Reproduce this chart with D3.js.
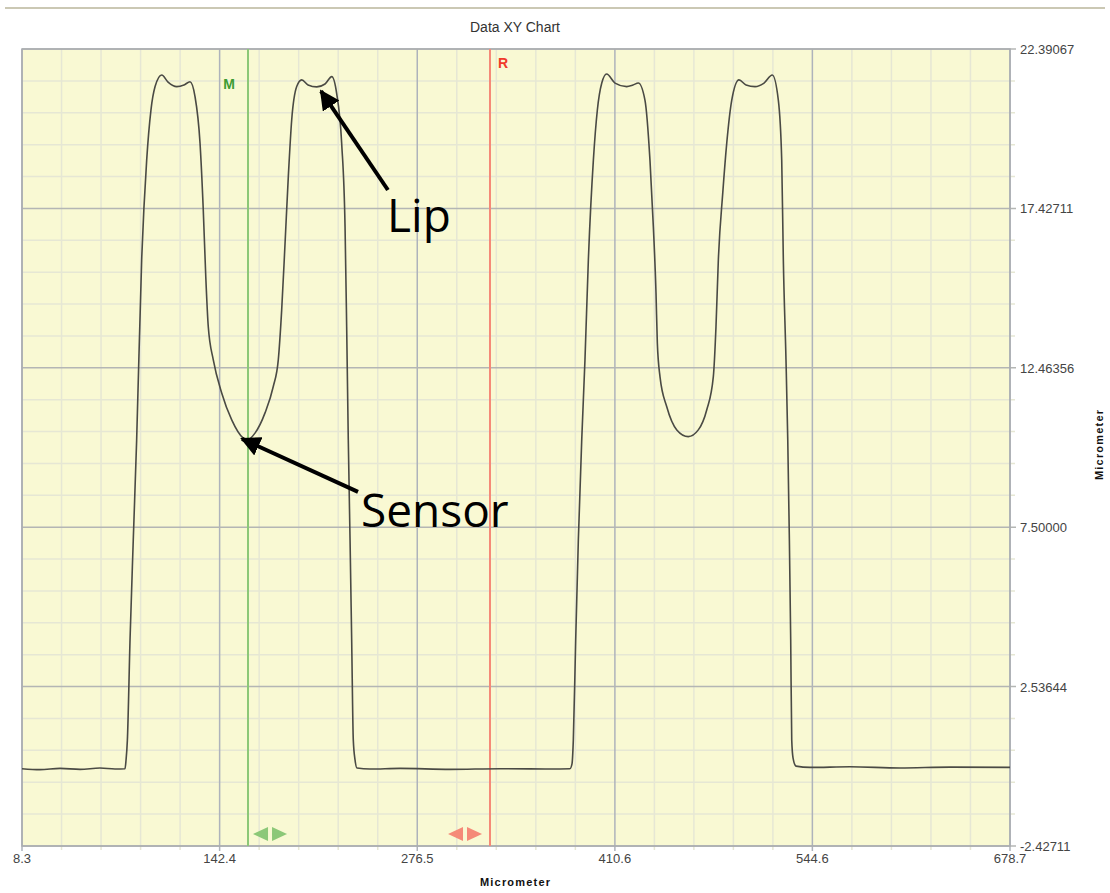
<!DOCTYPE html>
<html>
<head>
<meta charset="utf-8">
<script src="https://d3js.org/d3.v7.min.js"></script>
<style>
  body { margin: 0; background: #fff; }
  svg { display: block; font-family: "Liberation Sans", Arial, sans-serif; }
</style>
</head>
<body>
<svg></svg>
<script>
var width = 1110;
var height = 893;

// profile (micrometer vs micrometer)
var profileX = [8.3, 20.5, 34.1, 47.7, 61.2, 71.4, 78.2, 78.9, 79.8, 81.6, 83.8, 86.1, 89.5, 92.9, 95.8, 98.6,
  103.1, 107.4, 113.3, 118.2, 122.3, 125.7, 129.1, 131.3, 133.0, 134.7, 138.1, 143.8, 150.6, 158.5, 161.0,
  166.4, 173.2, 178.8, 182.2, 184.5, 186.8, 189.0, 191.3, 194.7, 198.1, 202.4, 208.3, 213.9, 218.5, 221.8,
  225.2, 227.5, 228.6, 229.7, 230.9, 232.0, 233.1, 234.3, 235.6, 244.4, 264.8, 298.7, 332.7, 366.6, 380.1,
  381.5, 382.4, 384.0, 385.8, 388.1, 390.3, 392.6, 396.0, 398.7, 401.7, 405.0, 410.7, 418.6, 422.9, 426.5,
  431.0, 434.4, 436.7, 438.5, 439.4, 441.2, 445.8, 452.6, 460.4, 467.2, 472.9, 477.4, 479.2, 480.8, 483.8,
  486.5, 489.9, 494.8, 499.6, 505.7, 511.8, 517.4, 521.5, 523.8, 524.9, 526.7, 527.9, 529.0, 529.9, 530.6,
  531.5, 533.5, 543.0, 570.1, 604.1, 638.0, 678.7];
var profileY = [-0.02, -0.05, -0.01, -0.04, 0.0, -0.03, -0.02, 0.25, 0.87, 3.99, 7.10, 10.22, 15.82, 18.93, 20.49, 21.22,
  21.58, 21.36, 21.22, 21.27, 21.37, 20.91, 19.46, 17.38, 15.30, 13.74, 12.71, 11.68, 10.84, 10.27, 10.22,
  10.43, 11.06, 11.88, 12.71, 14.26, 16.35, 18.41, 20.18, 21.22, 21.43, 21.27, 21.21, 21.30, 21.53, 21.01,
  19.46, 16.86, 13.74, 10.22, 7.10, 3.99, 0.87, 0.25, 0.0, -0.03, -0.01, -0.04, -0.02, -0.03, -0.02,
  0.13, 0.87, 3.99, 7.10, 10.22, 12.71, 15.82, 18.93, 20.49, 21.33, 21.61, 21.33, 21.22, 21.27, 21.33,
  20.80, 18.93, 16.86, 14.79, 13.24, 12.19, 11.25, 10.53, 10.32, 10.53, 11.15, 12.19, 13.74, 15.82, 17.91,
  19.46, 20.80, 21.43, 21.27, 21.22, 21.33, 21.58, 20.80, 18.93, 15.82, 12.71, 10.22, 7.10, 3.99, 0.87,
  0.31, 0.06, 0.02, 0.04, 0.0, 0.03, 0.02];

var xTicks = [8.3, 142.4, 276.5, 410.6, 544.6, 678.7];
var xTickLabels = ["8.3", "142.4", "276.5", "410.6", "544.6", "678.7"];
var yTicks = [22.39067, 17.42711, 12.46356, 7.50000, 2.53644, -2.42711];
var yTickLabels = ["22.39067", "17.42711", "12.46356", "7.50000", "2.53644", "-2.42711"];

var markerNames = ["M", "R"];
var markerValues = [161.65, 325.86];
var markerHandles = [176.6, 308.9];
var markerColors = ["#8cc878", "#f58a78"];
var markerLabelColors = ["#3c9c34", "#f03a2a"];

var noteTexts = ["Lip", "Sensor"];
var noteTip = [[211.2, 21.08], [157.6, 10.25]];
var noteTail = [[256.6, 18.0], [236.3, 8.6]];
var noteAt = [[256.0, 16.69], [238.3, 7.51]];

var margin = { left: 22, right: 100, top: 49, bottom: 47 };

var x = d3.scaleLinear().domain([8.3, 678.7]).range([margin.left, width - margin.right]);
var y = d3.scaleLinear().domain([-2.42711, 22.39067]).range([height - margin.bottom, margin.top]);

var svg = d3.select("svg").attr("width", width).attr("height", height);

// top rule and title
svg.append("line").attr("x1", 5).attr("x2", width - 5).attr("y1", 8).attr("y2", 8)
  .attr("stroke", "#cbc8b4").attr("stroke-width", 2);
svg.append("text").attr("x", 515).attr("y", 32).attr("text-anchor", "middle")
  .attr("font-size", 14).attr("fill", "#333").text("Data XY Chart");

// plot background
svg.append("rect").attr("x", x.range()[0]).attr("y", y.range()[1])
  .attr("width", x.range()[1] - x.range()[0]).attr("height", y.range()[0] - y.range()[1])
  .attr("fill", "#f9f9d3");

// minor ticks: five steps between majors
function minors(ticks) {
  var out = [];
  for (var i = 0; i < ticks.length - 1; i++) {
    for (var k = 1; k < 5; k++) out.push(ticks[i] + (ticks[i + 1] - ticks[i]) * k / 5);
  }
  return out;
}
var xMinor = minors(xTicks);
var yMinor = minors(yTicks);

var grid = svg.append("g");
grid.selectAll(".vx").data(xMinor).enter().append("line")
  .attr("x1", d => x(d)).attr("x2", d => x(d)).attr("y1", y.range()[1]).attr("y2", y.range()[0] + 4)
  .attr("stroke", "#e6e7d4").attr("stroke-width", 1.5);
grid.selectAll(".hy").data(yMinor).enter().append("line")
  .attr("x1", x.range()[0]).attr("x2", x.range()[1] + 5).attr("y1", d => y(d)).attr("y2", d => y(d))
  .attr("stroke", "#e6e7d4").attr("stroke-width", 1.5);
grid.selectAll(".vX").data(xTicks).enter().append("line")
  .attr("x1", d => x(d)).attr("x2", d => x(d)).attr("y1", y.range()[1]).attr("y2", y.range()[0] + 5)
  .attr("stroke", "#aeb3bb").attr("stroke-width", 1.5);
grid.selectAll(".hY").data(yTicks).enter().append("line")
  .attr("x1", x.range()[0]).attr("x2", x.range()[1] + 6).attr("y1", d => y(d)).attr("y2", d => y(d))
  .attr("stroke", "#b4b6b4").attr("stroke-width", 1.5);

// border
svg.append("rect").attr("x", x.range()[0]).attr("y", y.range()[1])
  .attr("width", x.range()[1] - x.range()[0]).attr("height", y.range()[0] - y.range()[1])
  .attr("fill", "none").attr("stroke", "#a9acb0").attr("stroke-width", 1.5);

// axis labels
svg.selectAll(".xl").data(xTicks).enter().append("text")
  .attr("x", d => x(d)).attr("y", y.range()[0] + 17).attr("text-anchor", "middle")
  .attr("font-size", 13).attr("fill", "#444").text((d, i) => xTickLabels[i]);
svg.selectAll(".yl").data(yTicks).enter().append("text")
  .attr("x", x.range()[1] + 10).attr("y", d => y(d) + 5)
  .attr("font-size", 13).attr("fill", "#444").text((d, i) => yTickLabels[i]);

svg.append("text").attr("x", 515).attr("y", 886).attr("text-anchor", "middle")
  .attr("font-size", 11).attr("font-weight", "bold").attr("fill", "#111")
  .attr("textLength", 70).text("Micrometer");
svg.append("text").attr("transform", "translate(1103,445) rotate(-90)").attr("text-anchor", "middle")
  .attr("font-size", 11).attr("font-weight", "bold").attr("fill", "#111")
  .attr("textLength", 70).text("Micrometer");

// markers
markerNames.forEach(function (name, i) {
  var mx = x(markerValues[i]);
  svg.append("line").attr("x1", mx).attr("x2", mx).attr("y1", y.range()[1]).attr("y2", y.range()[0])
    .attr("stroke", markerColors[i]).attr("stroke-width", 2);
  svg.append("text").attr("x", i === 0 ? mx - 19 : mx + 13).attr("y", i === 0 ? 89 : 68)
    .attr("text-anchor", "middle").attr("font-size", 14).attr("font-weight", "bold")
    .attr("fill", markerLabelColors[i]).text(name);
  var hx = x(markerHandles[i]);
  var hy = y.range()[0] - 12;
  svg.append("path")
    .attr("d", `M${hx - 2},${hy - 7} L${hx - 17},${hy} L${hx - 2},${hy + 7} Z M${hx + 2},${hy - 7} L${hx + 17},${hy} L${hx + 2},${hy + 7} Z`)
    .attr("fill", markerColors[i]);
});

// profile
var line = d3.line().x((d, i) => x(profileX[i])).y(d => y(d)).curve(d3.curveMonotoneX);
svg.append("path").datum(profileY).attr("d", line)
  .attr("fill", "none").attr("stroke", "#4a4a44").attr("stroke-width", 1.6);

// callouts
svg.append("defs").append("marker").attr("id", "head").attr("viewBox", "0 0 10 10")
  .attr("refX", 9).attr("refY", 5).attr("markerWidth", 5).attr("markerHeight", 5)
  .attr("markerUnits", "strokeWidth").attr("orient", "auto")
  .append("path").attr("d", "M0,0 L10,5 L0,10 Z").attr("fill", "#000");
noteTexts.forEach(function (t, i) {
  svg.append("line")
    .attr("x1", x(noteTail[i][0])).attr("y1", y(noteTail[i][1]))
    .attr("x2", x(noteTip[i][0])).attr("y2", y(noteTip[i][1]))
    .attr("stroke", "#000").attr("stroke-width", 4).attr("marker-end", "url(#head)");
  svg.append("text").attr("x", x(noteAt[i][0])).attr("y", y(noteAt[i][1]))
    .attr("font-family", "'Open Sans', sans-serif").attr("font-size", 46).attr("fill", "#000").text(t);
});
</script>
</body>
</html>
